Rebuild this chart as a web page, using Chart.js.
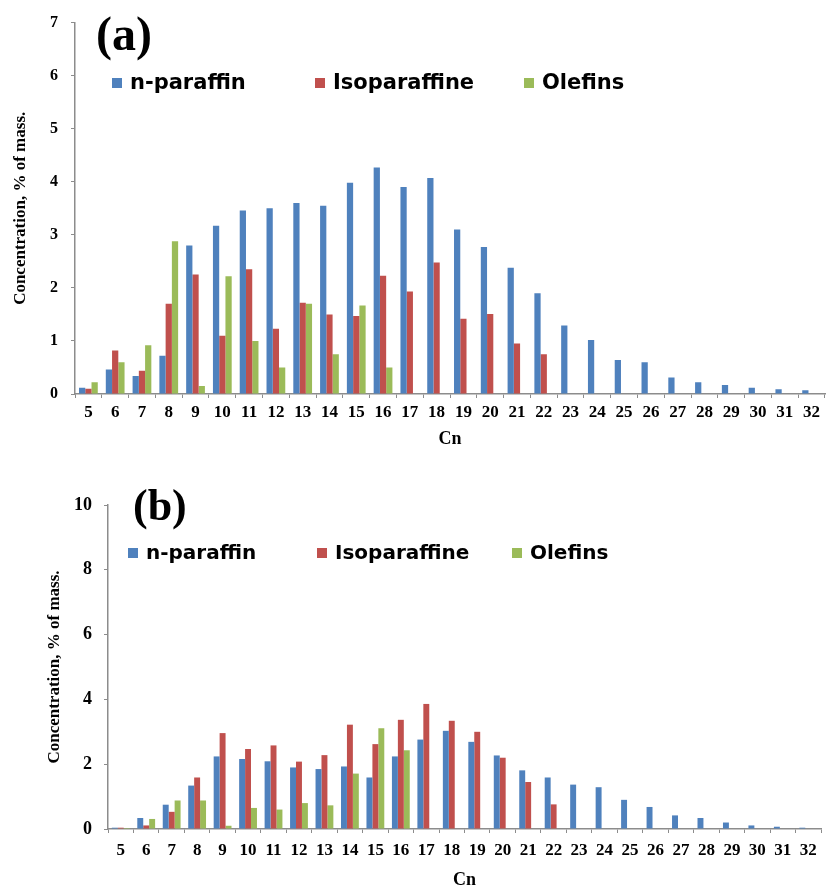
<!DOCTYPE html>
<html>
<head>
<meta charset="utf-8">
<script src="https://cdn.jsdelivr.net/npm/chart.js@4/dist/chart.umd.min.js"></script>
<style>
  html, body { margin: 0; padding: 0; background: #fff; }
  #wrap { position: relative; width: 834px; height: 892px; }
  #chartA { position: absolute; left: 0; top: 0; }
  #chartB { position: absolute; left: 0; top: 462px; }
</style>
</head>
<body>
<div id="wrap">
  <canvas id="chartA" width="834" height="462"></canvas>
  <canvas id="chartB" width="834" height="430"></canvas>
</div>
<script>
// carbon numbers
const carbonLabels = [
  '5','6','7','8','9','10','11','12','13','14','15','16','17','18',
  '19','20','21','22','23','24','25','26','27','28','29','30','31','32'
];

// panel (a)
const nParaffinA = [
  0.12, 0.46, 0.34, 0.72, 2.80, 3.17, 3.46, 3.50, 3.60, 3.55, 3.98, 4.27, 3.90, 4.07,
  3.10, 2.77, 2.38, 1.90, 1.29, 1.02, 0.64, 0.60, 0.31, 0.22, 0.17, 0.12, 0.09, 0.07
];
const isoParaffinA = [
  0.10, 0.82, 0.44, 1.70, 2.25, 1.10, 2.35, 1.23, 1.72, 1.50, 1.47, 2.23, 1.93, 2.48,
  1.42, 1.51, 0.95, 0.75, null, null, null, null, null, null, null, null, null, null
];
const olefinsA = [
  0.22, 0.60, 0.92, 2.88, 0.15, 2.22, 1.00, 0.50, 1.70, 0.75, 1.67, 0.50, null, null,
  null, null, null, null, null, null, null, null, null, null, null, null, null, null
];

// panel (b)
const nParaffinB = [
  0.04, 0.34, 0.75, 1.34, 2.24, 2.16, 2.09, 1.90, 1.85, 1.93, 1.59, 2.24, 2.76, 3.03,
  2.69, 2.27, 1.81, 1.59, 1.37, 1.29, 0.90, 0.68, 0.42, 0.34, 0.20, 0.11, 0.07, 0.04
];
const isoParaffinB = [
  0.04, 0.11, 0.53, 1.59, 2.96, 2.47, 2.58, 2.08, 2.28, 3.22, 2.62, 3.37, 3.86, 3.34,
  3.00, 2.20, 1.45, 0.76, null, null, null, null, null, null, null, null, null, null
];
const olefinsB = [
  0.03, 0.31, 0.88, 0.88, 0.10, 0.65, 0.60, 0.80, 0.73, 1.71, 3.11, 2.43, null, null,
  null, null, null, null, null, null, null, null, null, null, null, null, null, null
];

const seriesNames = ['n-paraffin', 'Isoparaffine', 'Olefins'];
const seriesColors = ['#4F81BD', '#C0504D', '#9BBB59'];

const serif = "'Liberation Serif', 'Times New Roman', serif";
const sans = "'DejaVu Sans', Verdana, sans-serif";
const axisGrey = '#8c8c8c';

// draws the in-plot legend and the panel letter
const panelDecor = {
  id: 'panelDecor',
  afterDraw(chart, args, opts) {
    const c = chart.ctx;
    c.save();
    c.fillStyle = '#000';
    c.font = 'bold ' + opts.letterSize + 'px ' + serif;
    c.textBaseline = 'middle';
    c.textAlign = 'left';
    c.fillText(opts.letter, opts.letterX, opts.letterY);

    c.font = 'bold ' + opts.legendSize + 'px ' + sans;
    chart.data.datasets.forEach((ds, i) => {
      const x = opts.legendX[i];
      c.fillStyle = ds.backgroundColor;
      c.fillRect(x, opts.legendY - opts.box / 2, opts.box, opts.box);
      c.fillStyle = '#000';
      c.fillText(ds.label, x + opts.box + 8, opts.legendY + 1);
    });
    c.restore();
  }
};

function makeChart(id, values, cfg) {
  return new Chart(
    document.getElementById(id),
    {
      type: 'bar',
      data: {
        labels: carbonLabels,
        datasets: values.map((v, i) => ({
          label: seriesNames[i],
          data: v,
          backgroundColor: seriesColors[i],
          borderWidth: 0,
          barPercentage: 1.0,
          categoryPercentage: 0.7
        }))
      },
      options: {
        responsive: false,
        animation: false,
        events: [],
        layout: {
          padding: { top: cfg.padTop, right: cfg.padRight, left: 0, bottom: 0 }
        },
        plugins: {
          legend: { display: false },
          tooltip: { enabled: false },
          panelDecor: cfg.decor
        },
        scales: {
          x: {
            grid: {
              drawOnChartArea: false,
              color: axisGrey,
              tickLength: 4,
              offset: true
            },
            border: { color: axisGrey, width: 1.5 },
            ticks: {
              color: '#000',
              font: { family: serif, size: cfg.xTickSize, weight: 'bold' },
              padding: cfg.xTickPad,
              maxRotation: 0,
              autoSkip: false
            },
            title: {
              display: true,
              text: 'Cn',
              color: '#000',
              font: { family: serif, size: 18, weight: 'bold' },
              padding: { top: 0, bottom: cfg.cnPad }
            },
            afterFit: s => { s.height = cfg.xHeight; }
          },
          y: {
            min: 0,
            max: cfg.yMax,
            grid: {
              drawOnChartArea: false,
              color: axisGrey,
              tickLength: 4
            },
            border: { color: axisGrey, width: 1.5 },
            ticks: {
              stepSize: cfg.yStep,
              color: '#000',
              font: { family: serif, size: cfg.yTickSize, weight: 'bold' },
              padding: cfg.yTickPad
            },
            title: {
              display: true,
              text: 'Concentration, % of mass.',
              color: '#000',
              font: { family: serif, size: 17, weight: 'bold' },
              padding: { top: cfg.yTitlePad, bottom: 0 }
            },
            afterFit: s => { s.width = cfg.yWidth; }
          }
        }
      },
      plugins: [panelDecor]
    }
  );
}

makeChart('chartA', [nParaffinA, isoParaffinA, olefinsA], {
  padTop: 20, padRight: 9,
  xHeight: 68, xTickSize: 17, xTickPad: 4, cnPad: 12,
  yWidth: 75, yMax: 7, yStep: 1, yTickSize: 16, yTickPad: 13, yTitlePad: 10,
  decor: {
    letter: '(a)', letterSize: 48, letterX: 96, letterY: 38,
    legendSize: 21, legendY: 83, box: 10,
    legendX: [112, 315, 524]
  }
});

makeChart('chartB', [nParaffinB, isoParaffinB, olefinsB], {
  padTop: 43, padRight: 13,
  xHeight: 63, xTickSize: 17, xTickPad: 7, cnPad: 1,
  yWidth: 108, yMax: 10, yStep: 2, yTickSize: 18, yTickPad: 12, yTitlePad: 44,
  decor: {
    letter: '(b)', letterSize: 44, letterX: 133, letterY: 47,
    legendSize: 20, legendY: 91, box: 10,
    legendX: [128, 317, 512]
  }
});
</script>
</body>
</html>
